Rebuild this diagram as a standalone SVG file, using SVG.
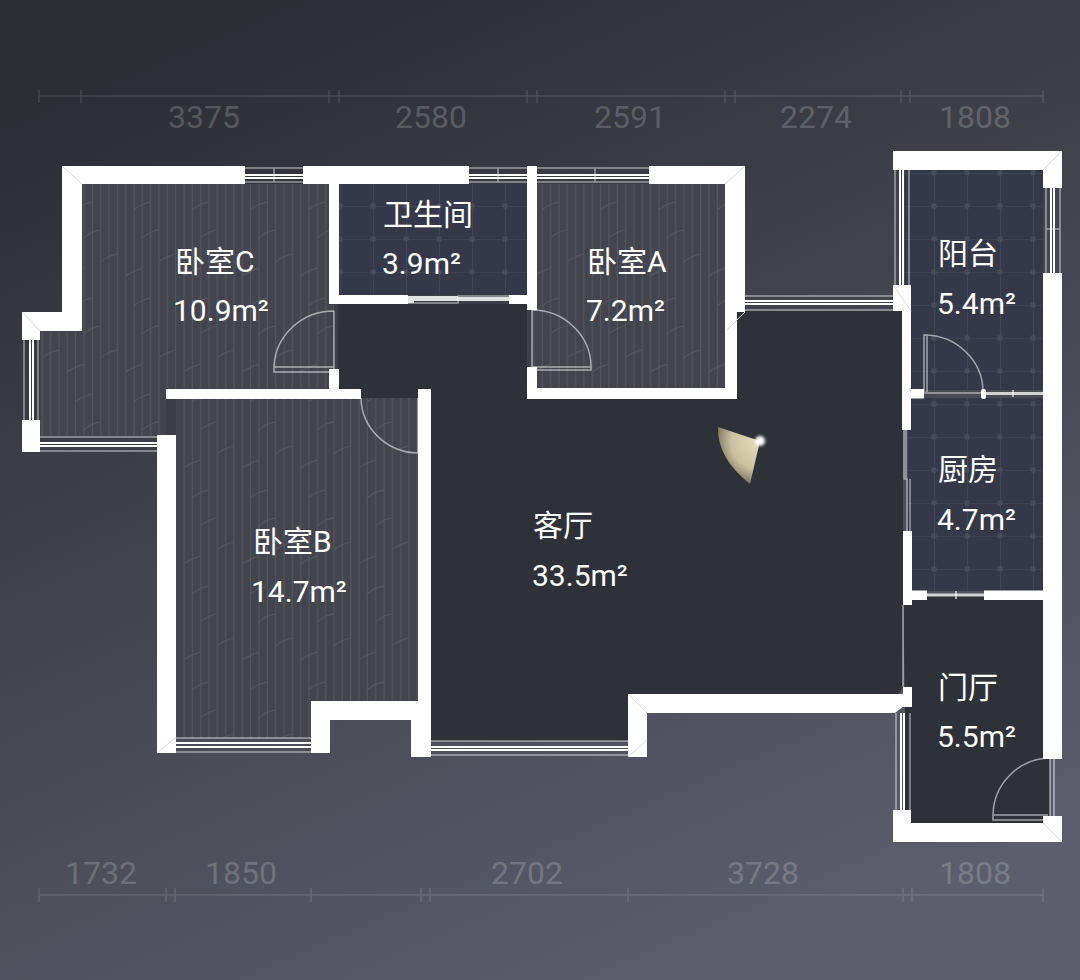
<svg xmlns="http://www.w3.org/2000/svg" width="1080" height="980" viewBox="0 0 1080 980">
<style>
.lab{font-family:Roboto,"Noto Sans CJK SC",sans-serif;font-size:30px;fill:#fff}
.dim{font-family:Roboto,"Noto Sans CJK SC",sans-serif;font-size:32px;fill:#fff;fill-opacity:.2;text-anchor:middle}
.wo{stroke:#fff;stroke-opacity:.5;stroke-width:1.5;fill:none}
.wi{stroke:#fff;stroke-width:2;fill:none}
.door{stroke:#fff;stroke-opacity:.55;stroke-width:1.5;fill:none}
.tick{stroke:#fff;stroke-opacity:.12;stroke-width:1.5;fill:none}
.mit{stroke:#dcdce2;stroke-width:1;fill:none}
</style>
<defs>
<linearGradient id="bg" gradientUnits="userSpaceOnUse" x1="300" y1="0" x2="720" y2="980">
<stop offset="0" stop-color="#2d2e34"/><stop offset="1" stop-color="#5c5e6d"/>
</linearGradient>
<pattern id="wood" patternUnits="userSpaceOnUse" width="58.33" height="96" x="5" y="0">
<rect width="58.33" height="96" fill="#43444d"/>
<path d="M4 0V96M12.33 0V96M20.66 0V96M29 0V96M37.33 0V96M45.66 0V96M54 0V96" stroke="#56575f" stroke-width="1" fill="none"/>
<path d="M12.33 18Q18 12 29 10M20.66 46Q28 39 37.33 38M37.33 70Q44 64 54 62M4 84Q9 80 20.66 76" stroke="#55565e" stroke-width="1" fill="none"/>
</pattern>
<pattern id="tile" patternUnits="userSpaceOnUse" width="33" height="33" x="10" y="8">
<rect width="33" height="33" fill="#343848"/>
<path d="M0 0H33M0 0V33" stroke="#484c5b" stroke-width="1.2" fill="none"/>
<rect x="-2.5" y="-2.5" width="5" height="5" rx="1" fill="#484c5a"/>
<rect x="30.5" y="-2.5" width="5" height="5" rx="1" fill="#484c5a"/>
<rect x="-2.5" y="30.5" width="5" height="5" rx="1" fill="#484c5a"/>
<rect x="30.5" y="30.5" width="5" height="5" rx="1" fill="#484c5a"/>
</pattern>
<radialGradient id="fan" gradientUnits="userSpaceOnUse" cx="760" cy="441" r="48">
<stop offset="0" stop-color="#e6dfbe"/><stop offset=".6" stop-color="#c9c1a0"/><stop offset="1" stop-color="#69644f"/>
</radialGradient>
<filter id="glow" x="-100%" y="-100%" width="300%" height="300%"><feGaussianBlur stdDeviation="1.4"/></filter>
<filter id="soft" x="-20%" y="-20%" width="140%" height="140%"><feGaussianBlur stdDeviation="0.7"/></filter>
</defs>
<rect width="1080" height="980" fill="url(#bg)"/>

<g id="dimensions">
<path class="tick" d="M39 96H1044M39 90V103M81 90V103M329 90V103M339 90V103M527 90V103M537 90V103M725 90V103M735 90V103M901 90V103M910 90V103M1043 90V103"/>
<path class="tick" d="M39 895H1044M39 888V902M166 888V902M175 888V902M311 888V902M421 888V902M430 888V902M628 888V902M903 888V902M912 888V902M1043 888V902"/>
<text class="dim" x="204" y="128">3375</text>
<text class="dim" x="431" y="128">2580</text>
<text class="dim" x="630" y="128">2591</text>
<text class="dim" x="816" y="128">2274</text>
<text class="dim" x="975" y="128">1808</text>
<text class="dim" x="101" y="884">1732</text>
<text class="dim" x="241" y="884">1850</text>
<text class="dim" x="527" y="884">2702</text>
<text class="dim" x="763" y="884">3728</text>
<text class="dim" x="975" y="884">1808</text>
</g>

<g id="floors">
<path fill="#2f3138" d="M338 304H527V399H737V311H903V687L895 700H640V741H431V398H338Z"/>
<path fill="#2f3138" d="M903 596H1050V823H905V700Z"/>
<path fill="url(#wood)" d="M82 184H329V305H334V371H329V390H166V436H40V331H82Z"/>
<path fill="url(#wood)" d="M176 398H418V701H311V738H176Z"/>
<path fill="url(#wood)" d="M537 184H725V388H537V367H532V310H537Z"/>
<path fill="url(#tile)" d="M339 184H527V295H339Z"/>
<path fill="url(#tile)" d="M905 170H1043V390H905Z"/>
<path fill="url(#tile)" d="M908 398H1043V591H908Z"/>
</g>

<g id="windows">
<path class="wo" d="M245 168H303M245 182H303M274 168V182"/><path class="wi" d="M245 175H303M245 178H303"/>
<path class="wo" d="M469 168H527M469 182H527M498 168V182"/><path class="wi" d="M469 175H527M469 178H527"/>
<path class="wo" d="M537 168H649M537 182H649M595 168V182"/><path class="wi" d="M537 175H649M537 178H649"/>
<path class="wo" d="M24 340V420M38 340V420"/><path class="wi" d="M30 340V420M33 340V420"/>
<path class="wo" d="M40 437H157M40 451H157"/><path class="wi" d="M40 443H157M40 446H157"/>
<path class="wo" d="M176 738H311M176 752H311"/><path class="wi" d="M176 743H311M176 747H311"/>
<path class="wo" d="M431 741H628M431 755H628"/><path class="wi" d="M431 747H628M431 750H628"/>
<path class="wo" d="M745 296H893M745 310H893"/><path class="wi" d="M745 301H893M745 304H893"/>
<path class="wo" d="M895 170V285M909 170V285"/><path class="wi" d="M900 170V285M903 170V285"/>
<path class="wo" d="M1046 188V273M1060 188V273M1046 229H1060"/><path class="wi" d="M1051 188V273M1054 188V273"/>
<path class="wo" d="M896 713V810M910 713V810"/><path class="wi" d="M901 713V810M904 713V810"/>
<path fill="#fff" fill-opacity=".85" d="M408 296H458V301H414V303H408ZM458 297H509V301H458Z"/>
<path class="wo" d="M408 303H458V296H509"/>
<path class="wo" d="M904 430V479H907V531M910 479V531M906 430V479"/>
<path stroke="#fff" stroke-opacity=".75" stroke-width="3" fill="none" d="M986 393.500H1043M927 595H984"/>
<path stroke="#fff" stroke-opacity=".8" stroke-width="1.500" fill="none" d="M1013 390V397M956 591V599"/>
</g>

<g id="walls" fill="#fff">
<rect x="62" y="166" width="183" height="18"/>
<rect x="62" y="166" width="20" height="165"/>
<rect x="22" y="312" width="60" height="19"/>
<rect x="22" y="312" width="18" height="28"/>
<rect x="22" y="420" width="18" height="32"/>
<rect x="157" y="435" width="19" height="318"/>
<rect x="166" y="389" width="195" height="10"/>
<rect x="303" y="166" width="166" height="18"/>
<rect x="329" y="166" width="10" height="138"/>
<rect x="329" y="295" width="79" height="9"/>
<rect x="509" y="295" width="18" height="9"/>
<rect x="329" y="369" width="10" height="30"/>
<rect x="527" y="166" width="10" height="144"/>
<rect x="649" y="166" width="96" height="18"/>
<rect x="725" y="166" width="20" height="146"/>
<rect x="725" y="300" width="12" height="99"/>
<rect x="527" y="388" width="210" height="11"/>
<rect x="527" y="367" width="10" height="32"/>
<rect x="418" y="389" width="13" height="368"/>
<rect x="311" y="701" width="120" height="19"/>
<rect x="311" y="701" width="19" height="52"/>
<rect x="411" y="701" width="20" height="56"/>
<rect x="628" y="694" width="19" height="63"/>
<rect x="628" y="694" width="267" height="19"/>
<path d="M895 694H905V705L895 713Z"/>
<rect x="903" y="687" width="9" height="20"/>
<rect x="893" y="151" width="169" height="19"/>
<rect x="1043" y="151" width="19" height="37"/>
<rect x="1043" y="273" width="19" height="486"/>
<rect x="1043" y="816" width="19" height="26"/>
<rect x="893" y="810" width="18" height="32"/>
<rect x="893" y="823" width="169" height="19"/>
<rect x="893" y="285" width="18" height="26"/>
<rect x="902" y="311" width="9" height="119"/>
<rect x="903" y="531" width="9" height="74"/>
<rect x="903" y="389" width="21" height="9.500"/>
<rect x="981" y="389" width="5" height="10" rx="2"/>
<rect x="903" y="590.500" width="24" height="9.500"/>
<rect x="984" y="590.500" width="59" height="9.500"/>
</g>
<g id="corners">
<path class="mit" d="M62 166L82 184M745 166L725 184M22 312L40 331M1062 151L1043 170M745 312L727 330M893 285L911 311M628 694L647 713M157 753L176 737M628 757L647 740M1062 842L1043 823"/>
</g>

<g id="doors">
<path class="door" d="M334 311A60 58 0 0 0 274 367V372H332M274 367H334M334 311V369"/>
<path class="door" d="M532 310A59 57 0 0 1 591 367V370H532M532 367H591M532 310V367"/>
<path class="door" d="M361 398A58 56 0 0 0 418 453H420V398M418 398V453"/>
<path class="door" d="M924 335A59 57 0 0 1 983 392M924 392V335H927V392M924 393H983"/>
<path class="door" d="M1050 758A58 58 0 0 0 993 815V820H1048M993 815H1048M1050 758V816M1054 758V816"/>
<path class="door" d="M903 605V687" stroke-opacity=".1"/>
</g>

<g id="viewpoint">
<path d="M760 441L718 427Q717 458 750 484Z" fill="url(#fan)" filter="url(#soft)"/>
<circle cx="760" cy="441" r="5" fill="#fff" filter="url(#glow)"/>
</g>

<g id="room-c"><text class="lab" x="175" y="272">卧室C</text><text class="lab" x="173" y="321">10.9m²</text></g>
<g id="room-bath"><text class="lab" x="383" y="225">卫生间</text><text class="lab" x="382" y="274">3.9m²</text></g>
<g id="room-a"><text class="lab" x="587" y="272">卧室A</text><text class="lab" x="586" y="321">7.2m²</text></g>
<g id="room-balcony"><text class="lab" x="938" y="264">阳台</text><text class="lab" x="937" y="314">5.4m²</text></g>
<g id="room-kitchen"><text class="lab" x="938" y="480">厨房</text><text class="lab" x="937" y="530">4.7m²</text></g>
<g id="room-hall"><text class="lab" x="938" y="698">门厅</text><text class="lab" x="937" y="747">5.5m²</text></g>
<g id="room-b"><text class="lab" x="253" y="552">卧室B</text><text class="lab" x="251" y="602">14.7m²</text></g>
<g id="room-living"><text class="lab" x="533" y="536">客厅</text><text class="lab" x="532" y="586">33.5m²</text></g>
</svg>
